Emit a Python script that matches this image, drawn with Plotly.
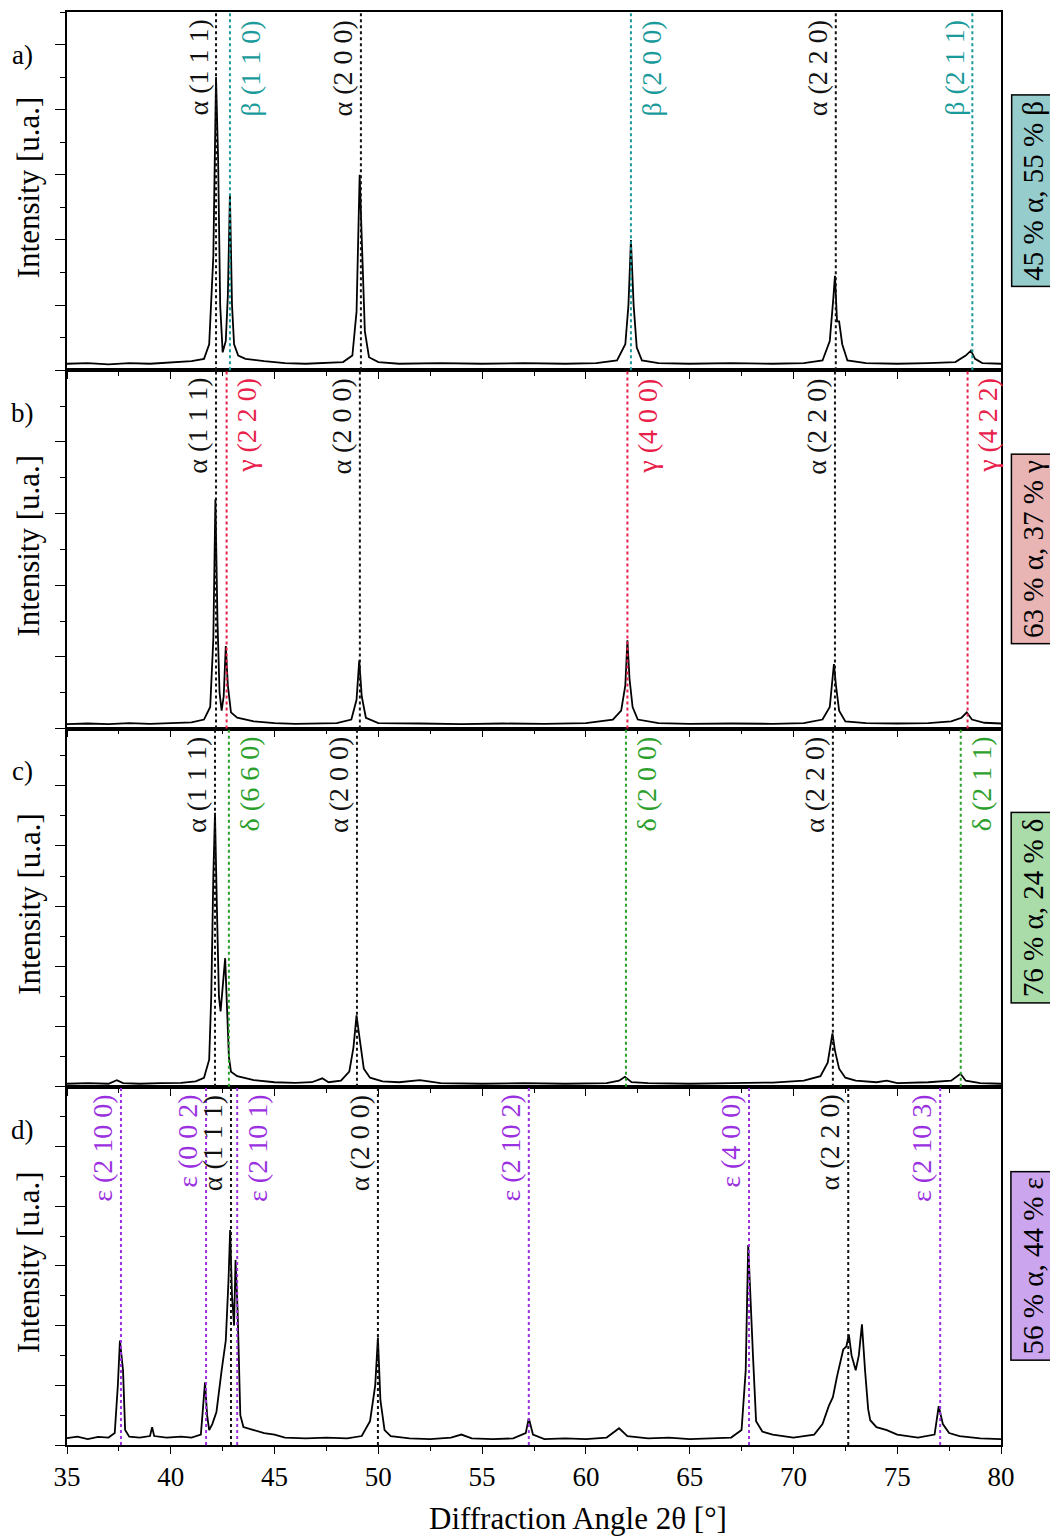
import plotly.graph_objects as go
from plotly.subplots import make_subplots

# ---------------- data ----------------
two_theta_a = [35.0, 36.0, 37.0, 38.0, 39.0, 40.0, 41.0, 41.6, 41.85, 42.05, 42.18, 42.28, 42.38, 42.5,
               42.65, 42.75, 42.85, 42.95, 43.05, 43.25, 43.6, 44.5, 45.5, 46.5, 47.5, 48.3, 48.75, 48.95,
               49.1, 49.2, 49.35, 49.55, 50.0, 51.0, 53.0, 55.0, 57.0, 59.0, 60.5, 61.5, 61.9, 62.05,
               62.17, 62.3, 62.45, 62.7, 63.5, 65.0, 67.0, 69.0, 70.5, 71.4, 71.75, 71.92, 72.0, 72.1,
               72.2, 72.35, 72.6, 73.5, 75.0, 76.5, 77.8, 78.3, 78.55, 78.75, 79.1, 80.0]
intensity_a = [0.20, 0.22, 0.18, 0.22, 0.20, 0.24, 0.28, 0.35, 0.8, 3.5, 9.0, 6.5, 2.0, 0.55,
               0.9, 2.3, 5.4, 2.0, 0.8, 0.45, 0.35, 0.28, 0.22, 0.20, 0.22, 0.25, 0.45, 1.8,
               6.0, 4.2, 1.2, 0.4, 0.25, 0.20, 0.22, 0.20, 0.22, 0.20, 0.22, 0.30, 0.8, 2.0,
               4.0, 2.0, 0.7, 0.30, 0.22, 0.20, 0.22, 0.20, 0.22, 0.30, 0.9, 2.2, 2.9, 1.5,
               1.5, 0.8, 0.30, 0.22, 0.20, 0.22, 0.25, 0.45, 0.6, 0.35, 0.22, 0.20]

two_theta_b = [35.0, 36.0, 37.0, 38.0, 39.0, 40.0, 41.0, 41.6, 41.9, 42.05, 42.15, 42.25, 42.35, 42.45,
               42.55, 42.65, 42.75, 42.9, 43.2, 44.0, 45.0, 46.0, 47.0, 48.0, 48.7, 48.95, 49.08, 49.2,
               49.4, 50.0, 52.0, 54.0, 56.0, 58.0, 60.0, 61.3, 61.7, 61.9, 62.0, 62.1, 62.25, 62.5,
               63.5, 65.0, 67.0, 69.0, 70.5, 71.4, 71.75, 71.95, 72.05, 72.2, 72.5, 73.5, 75.0, 76.5,
               77.6, 78.1, 78.35, 78.6, 79.2, 80.0]
intensity_b = [0.12, 0.14, 0.12, 0.15, 0.13, 0.15, 0.17, 0.25, 0.6, 2.5, 6.4, 3.0, 1.0, 0.5,
               0.9, 2.3, 1.2, 0.45, 0.30, 0.20, 0.15, 0.13, 0.14, 0.15, 0.25, 0.8, 1.9, 0.9,
               0.30, 0.15, 0.14, 0.12, 0.14, 0.13, 0.15, 0.25, 0.5, 1.2, 2.46, 1.4, 0.6, 0.25,
               0.15, 0.13, 0.14, 0.13, 0.15, 0.25, 0.6, 1.8, 1.2, 0.5, 0.20, 0.15, 0.14, 0.15,
               0.20, 0.30, 0.45, 0.25, 0.16, 0.14]

two_theta_c = [35.0, 36.0, 37.0, 37.4, 37.7, 38.5, 39.5, 40.5, 41.2, 41.6, 41.85, 41.95, 42.05, 42.13,
               42.22, 42.32, 42.4, 42.5, 42.62, 42.7, 42.8, 42.9, 43.2, 44.0, 45.0, 46.0, 46.8, 47.3,
               47.6, 48.2, 48.6, 48.8, 48.95, 49.1, 49.3, 49.6, 50.2, 51.0, 52.0, 53.0, 55.0, 57.0,
               59.0, 61.0, 61.6, 61.88, 62.2, 63.0, 65.0, 67.0, 69.0, 70.5, 71.3, 71.65, 71.88, 72.0,
               72.2, 72.5, 73.0, 74.0, 74.5, 75.0, 76.5, 77.6, 78.05, 78.3, 79.0, 80.0]
intensity_c = [0.10, 0.12, 0.10, 0.22, 0.12, 0.10, 0.12, 0.13, 0.18, 0.30, 0.9, 3.0, 7.0, 9.1,
               6.0, 3.0, 2.5, 3.2, 4.27, 2.8, 1.0, 0.5, 0.35, 0.22, 0.15, 0.13, 0.15, 0.28,
               0.15, 0.20, 0.5, 1.3, 2.37, 1.6, 0.6, 0.30, 0.18, 0.15, 0.22, 0.12, 0.10, 0.12,
               0.10, 0.12, 0.20, 0.33, 0.15, 0.12, 0.10, 0.12, 0.14, 0.20, 0.35, 0.8, 1.77, 1.2,
               0.6, 0.30, 0.20, 0.15, 0.20, 0.12, 0.15, 0.20, 0.43, 0.20, 0.12, 0.10]

two_theta_d = [35.0, 35.5, 36.0, 36.5, 37.0, 37.3, 37.45, 37.55, 37.7, 37.8, 38.0, 38.5, 39.0, 39.1,
               39.2, 39.8, 40.5, 41.0, 41.45, 41.58, 41.65, 41.75, 41.85, 42.0, 42.2, 42.45, 42.65, 42.78,
               42.86, 42.95, 43.05, 43.12, 43.22, 43.35, 43.5, 44.0, 44.5, 45.0, 45.5, 46.5, 47.5, 48.5,
               49.2, 49.6, 49.85, 49.98, 50.1, 50.3, 50.6, 51.5, 52.5, 53.5, 54.0, 54.5, 55.5, 56.5,
               57.1, 57.25, 57.45, 58.0, 59.0, 60.0, 61.0, 61.6, 62.0, 63.0, 64.0, 65.0, 66.0, 67.0,
               67.5, 67.7, 67.82, 67.92, 68.05, 68.2, 68.5, 69.0, 70.0, 71.0, 71.4, 71.7, 71.9, 72.1,
               72.24, 72.4, 72.55, 72.67, 72.8, 73.0, 73.15, 73.3, 73.45, 73.6, 73.7, 74.0, 74.5, 75.0,
               76.0, 76.8, 77.0, 77.2, 77.5, 78.0, 79.0, 80.0]
intensity_d = [0.23, 0.28, 0.20, 0.27, 0.25, 0.40, 2.0, 3.5, 2.5, 0.5, 0.28, 0.25, 0.30, 0.6,
               0.30, 0.25, 0.28, 0.25, 0.35, 1.5, 2.1, 1.0, 0.5, 0.7, 1.1, 2.5, 3.5, 5.5,
               7.2, 5.0, 4.0, 6.2, 4.5, 1.0, 0.6, 0.5, 0.4, 0.35, 0.25, 0.22, 0.25, 0.22,
               0.30, 0.8, 2.0, 3.6, 1.5, 0.5, 0.30, 0.22, 0.20, 0.25, 0.35, 0.22, 0.20, 0.22,
               0.40, 0.9, 0.35, 0.20, 0.22, 0.20, 0.25, 0.56, 0.30, 0.22, 0.25, 0.20, 0.22, 0.25,
               0.5, 2.5, 6.7, 4.9, 3.0, 0.8, 0.45, 0.35, 0.25, 0.35, 0.7, 1.3, 1.6, 2.3,
               2.7, 3.2, 3.3, 3.7, 3.0, 2.5, 3.0, 4.04, 2.5, 1.2, 0.83, 0.6, 0.5, 0.35,
               0.25, 0.35, 1.3, 0.7, 0.4, 0.30, 0.22, 0.20]

# reflection markers: label, position (2θ), phase, side of the line for the label
peaks_a = [("α (1 1 1)", 42.18, "alpha", "left"), ("β (1 1 0)", 42.85, "beta", "right"),
           ("α (2 0 0)", 49.16, "alpha", "left"), ("β (2 0 0)", 62.17, "beta", "right"),
           ("α (2 2 0)", 72.04, "alpha", "left"), ("β (2 1 1)", 78.62, "beta", "left")]
peaks_b = [("α (1 1 1)", 42.18, "alpha", "left"), ("γ (2 2 0)", 42.69, "gamma", "right"),
           ("α (2 0 0)", 49.11, "alpha", "left"), ("γ (4 0 0)", 62.0, "gamma", "right"),
           ("α (2 2 0)", 72.0, "alpha", "left"), ("γ (4 2 2)", 78.39, "gamma", "right")]
peaks_c = [("α (1 1 1)", 42.13, "alpha", "left"), ("δ (6 6 0)", 42.8, "delta", "right"),
           ("α (2 0 0)", 48.97, "alpha", "left"), ("δ (2 0 0)", 61.93, "delta", "right"),
           ("α (2 2 0)", 71.9, "alpha", "left"), ("δ (2 1 1)", 78.06, "delta", "right")]
peaks_d = [("ε (2 10 0)", 37.6, "eps", "left"), ("ε (0 0 2)", 41.7, "eps", "left"),
           ("α (1 1 1)", 42.9, "alpha", "left"), ("ε (2 10 1)", 43.2, "eps", "right"),
           ("α (2 0 0)", 49.98, "alpha", "left"), ("ε (2 10 2)", 57.25, "eps", "left"),
           ("ε (4 0 0)", 67.86, "eps", "left"), ("α (2 2 0)", 72.64, "alpha", "left"),
           ("ε (2 10 3)", 77.07, "eps", "left")]

panel_letters = ["a)", "b)", "c)", "d)"]
composition = ["45 % α, 55 % β", "63 % α, 37 % γ", "76 % α, 24 % δ", "56 % α, 44 % ε"]
y_ranges = [[0, 11], [0, 10], [0, 11.9], [0, 12]]
x_ticks = [35, 40, 45, 50, 55, 60, 65, 70, 75, 80]
x_title = "Diffraction Angle 2θ [°]"

# ---------------- styles ----------------
FONT = "Liberation Serif"
phase_color = {"alpha": "#111111", "beta": "#1a9a9a", "gamma": "#e8204a",
               "delta": "#2ca02c", "eps": "#9b30e0"}
box_fill = ["#97cccc", "#e8b4b4", "#aadcaa", "#cba5ee"]

panels = [(two_theta_a, intensity_a, peaks_a), (two_theta_b, intensity_b, peaks_b),
          (two_theta_c, intensity_c, peaks_c), (two_theta_d, intensity_d, peaks_d)]

fig = make_subplots(rows=4, cols=1, shared_xaxes=True, vertical_spacing=0)

for i, (xs, ys, peaks) in enumerate(panels):
    r = i + 1
    fig.add_trace(go.Scatter(x=xs, y=ys, mode="lines",
                             line=dict(color="black", width=1.8),
                             showlegend=False, hoverinfo="skip"), row=r, col=1)
    xref = "x" if r == 1 else f"x{r}"
    yname = "y" if r == 1 else f"y{r}"
    for label, pos, phase, side in peaks:
        col = phase_color[phase]
        fig.add_shape(type="line", x0=pos, x1=pos, y0=0, y1=1, xref=xref,
                      yref=f"{yname} domain", layer="above",
                      line=dict(color=col, width=2, dash="dot"))
        fig.add_annotation(x=pos, y=1, xref=xref, yref=f"{yname} domain",
                           text=label, textangle=-90, showarrow=False,
                           xanchor="right" if side == "left" else "left",
                           yanchor="top", xshift=-1 if side == "left" else 3, yshift=-6,
                           font=dict(family=FONT, size=28, color=col))
    # panel letter
    fig.add_annotation(x=-0.048, y=0.88, xref="paper", yref=f"{yname} domain",
                       text=panel_letters[i], showarrow=False, xanchor="center",
                       yanchor="middle", font=dict(family=FONT, size=27, color="black"))
    # y title
    fig.add_annotation(x=-0.041, y=0.51, xref="paper", yref=f"{yname} domain",
                       text="Intensity [u.a.]", textangle=-90, showarrow=False,
                       xanchor="center", yanchor="middle",
                       font=dict(family=FONT, size=31, color="black"))
    # composition box
    fig.add_annotation(x=1.0343, y=0.5, xref="paper", yref=f"{yname} domain",
                       text=composition[i], textangle=-90, showarrow=False,
                       xanchor="center", yanchor="middle",
                       bgcolor=box_fill[i], bordercolor="black", borderwidth=1.5,
                       borderpad=5,
                       font=dict(family=FONT, size=29, color="black"))
    fig.update_yaxes(row=r, col=1, range=y_ranges[i], showticklabels=False,
                     showline=True, linecolor="black", linewidth=1.5, mirror=True,
                     showgrid=False, zeroline=False,
                     ticks="outside", tick0=0, dtick=2, ticklen=10, tickcolor="black",
                     minor=dict(ticks="outside", dtick=1, ticklen=5, tickcolor="black"))
    fig.update_xaxes(row=r, col=1, range=[35, 80], showline=True, linecolor="black",
                     linewidth=1.5, mirror=True, showgrid=False, zeroline=False,
                     ticks="outside", tickvals=x_ticks, ticklen=7, tickcolor="black",
                     minor=dict(ticks="outside", dtick=2.5, tick0=35, ticklen=4,
                                tickcolor="black"),
                     showticklabels=(r == 4),
                     tickfont=dict(family=FONT, size=27, color="black"))

# x-axis title (slightly right of centre, as in the reference)
fig.add_annotation(x=0.547, y=-0.051, xref="paper", yref="paper", text=x_title,
                   showarrow=False, xanchor="center", yanchor="middle",
                   font=dict(family=FONT, size=31, color="black"))

# the page body adds an 8 px offset, compensated in the margins
fig.update_layout(width=1058, height=1537, plot_bgcolor="white", paper_bgcolor="white",
                  margin=dict(l=59, r=65, t=2, b=100), showlegend=False,
                  font=dict(family=FONT, color="black"))

fig.write_html("out.html")
